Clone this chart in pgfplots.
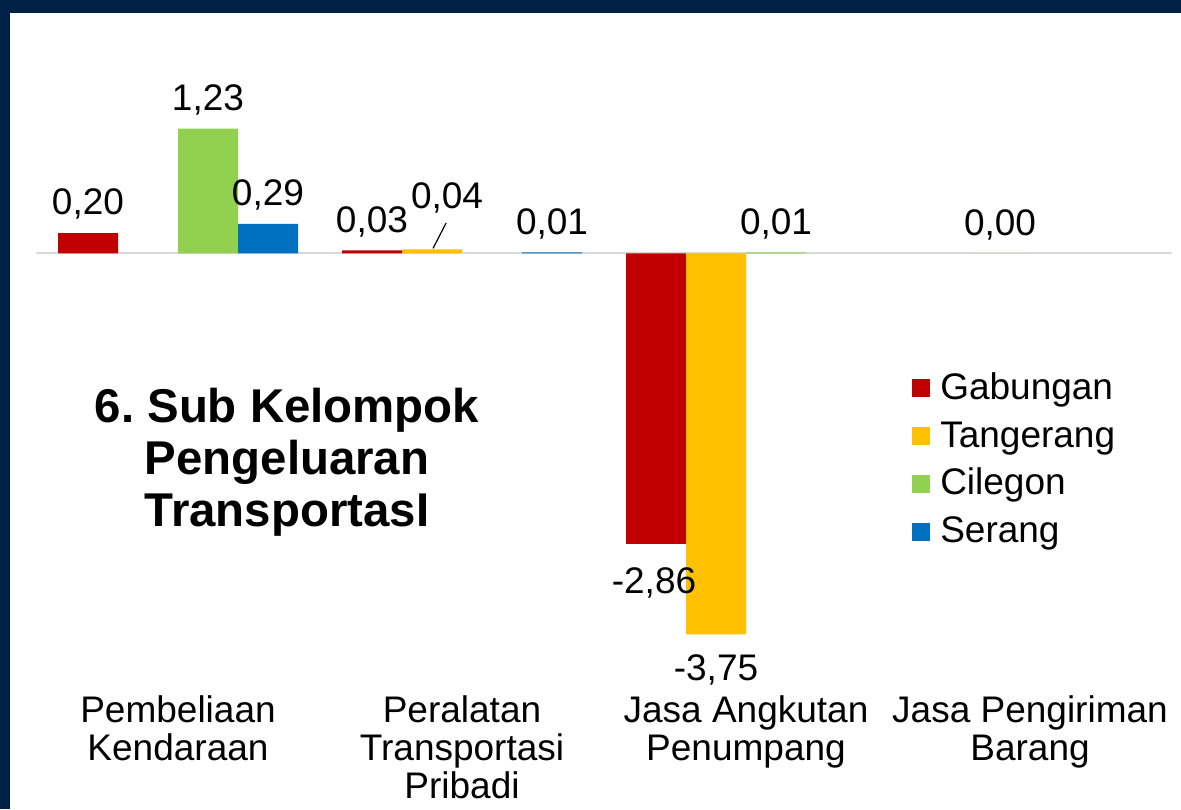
\documentclass[border=0pt]{standalone}
\usepackage{fontspec}
\setmainfont{Liberation Sans}
\usepackage{pgfplots}
\usepackage{pgfplotstable}
\pgfplotsset{compat=1.18}

\definecolor{gab}{HTML}{C00000}
\definecolor{tng}{HTML}{FFC000}
\definecolor{cil}{HTML}{92D050}
\definecolor{ser}{HTML}{0070C0}
\definecolor{navy}{HTML}{002147}

% x = category index, dx/dy = label nudges in pt
\pgfplotstableread{
x y lbl dx dy
0 0.20 0,20 0 0
1 0.03 0,03 0 0
2 -2.86 -2,86 -1 -34
}\gabungan
\pgfplotstableread{
x y lbl dx dy
1 0.04 0,04 7.5 11.5
2 -3.75 -3,75 0 -32
3 0.00 0,00 0 0
}\tangerang
\pgfplotstableread{
x y lbl dx dy
0 1.23 1,23 0 0
2 0.01 0,01 0 0
}\cilegon
\pgfplotstableread{
x y lbl dx dy
0 0.29 0,29 0 0
1 0.01 0,01 0 0
}\serang

\begin{document}
\begin{tikzpicture}
\useasboundingbox (0,0) rectangle (590.5pt,404.5pt);
\fill[white] (0,0) rectangle (590.5pt,404.5pt);
\fill[navy] (0,0) rectangle (5pt,404.5pt);
\fill[navy] (0,398pt) rectangle (590.5pt,404.5pt);

\begin{axis}[
  at={(18pt,64.5pt)}, anchor=south west,
  scale only axis, width=568pt, height=325pt,
  xmin=-0.5, xmax=3.5, ymin=-4.2, ymax=2.2,
  ybar=0pt, bar width=30pt,
  axis lines*=left, axis line style={draw=none},
  ytick=\empty, xtick={0,1,2,3}, major tick length=0pt,
  xticklabels={{Pembeliaan\\Kendaraan},{Peralatan\\Transportasi\\Pribadi},{Jasa Angkutan\\Penumpang},{Jasa Pengiriman\\Barang}},
  xticklabel style={align=center, font=\fontsize{18.5}{19}\selectfont, yshift=-4.5pt},
  extra y ticks={0}, extra y tick labels={},
  extra y tick style={grid=major, major grid style={draw=black!15, line width=1pt}},
  nodes near coords, point meta=explicit symbolic,
  visualization depends on={\thisrow{dx} \as \dx},
  visualization depends on={\thisrow{dy} \as \dy},
  every node near coord/.append style={font=\fontsize{18.5}{19}\selectfont, inner ysep=6.5pt, text=black, xshift=\dx*1pt, yshift=\dy*1pt},
  legend image code/.code={\path[#1] (0pt,-3.5pt) rectangle (9pt,5.5pt);},
  legend cell align=left,
  legend style={at={(rel axis cs:0.771,0.471)}, anchor=north west, draw=none, fill=none,
    font=\fontsize{18.5}{19}\selectfont, inner sep=0pt, row sep=7.9pt,
    nodes={inner xsep=0pt, inner ysep=0pt, text height=12.5pt, text depth=3.5pt},
    /tikz/every odd column/.append style={column sep=5pt}},
]
\addplot[fill=gab, draw=none] table[x=x, y=y, meta=lbl] {\gabungan};
\addplot[fill=tng, draw=none] table[x=x, y=y, meta=lbl] {\tangerang};
\addplot[fill=cil, draw=none] table[x=x, y=y, meta=lbl] {\cilegon};
\addplot[fill=ser, draw=none] table[x=x, y=y, meta=lbl] {\serang};
\legend{Gabungan,Tangerang,Cilegon,Serang}
% leader line of the moved 0,04 label
\draw[black, line width=0.6pt] (axis cs:0.898,0.05) -- (axis cs:0.944,0.30);
\end{axis}

\node[font=\bfseries\fontsize{23.7}{26}\selectfont, align=center] at (143.5pt,173.5pt)
  {6.\ Sub Kelompok\\Pengeluaran\\TransportasI};
\end{tikzpicture}
\end{document}
